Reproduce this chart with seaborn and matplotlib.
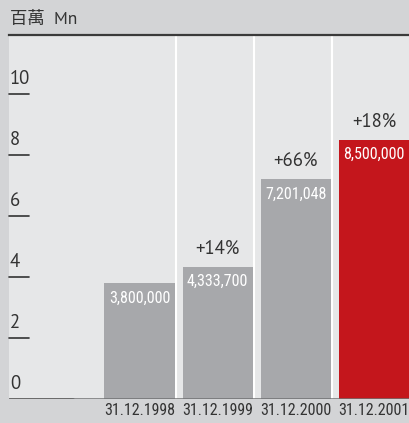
import matplotlib
matplotlib.use("Agg")
import matplotlib.pyplot as plt
import seaborn as sns
import pandas as pd

# data
dates = ['31.12.1998', '31.12.1999', '31.12.2000', '31.12.2001']
members = [3.8, 4.3337, 7.201048, 8.5]
value_labels = ['3,800,000', '4,333,700', '7,201,048', '8,500,000']
growth_labels = ['', '+14%', '+66%', '+18%']
bar_colors = ['#a7a8ab', '#a7a8ab', '#a7a8ab', '#c4161c']
y_ticks = [0, 2, 4, 6, 8, 10]

df = pd.DataFrame({'date': dates, 'members': members})

sns.set_style("white")
narrow = ['Roboto Condensed', 'DejaVu Sans']
regular = ['PT Sans', 'DejaVu Sans']
plt.rcParams['font.family'] = narrow

fig = plt.figure(figsize=(4.09, 4.23), dpi=100, facecolor='#d3d4d6')
ax = fig.add_axes([9 / 409, 24 / 423, 400 / 409, 364 / 423])
ax.set_facecolor('#e6e7e8')

sns.barplot(data=df, x='date', y='members', hue='date', palette=bar_colors,
            width=0.9, legend=False, saturation=1, linewidth=0, ax=ax)

ax.set_xlim(-1.673, 3.45)
ax.set_ylim(0, 11.93)

# white column separators
for i in range(3):
    ax.axvline(i + 0.47, color='white', lw=1.5, zorder=0.5)

# labels on and above bars
for i, (v, lab, g) in enumerate(zip(members, value_labels, growth_labels)):
    ax.text(i, v - 0.24, lab, ha='center', va='top', color='white', fontsize=11.5)
    if g:
        ax.text(i, v + 0.3, g, ha='center', va='bottom', color='#333333', fontsize=13.5,
                family=regular)

# y ticks drawn as short lines with labels above
for t in y_ticks:
    if t > 0:
        ax.plot([-1.673, -1.42], [t, t], color='#333333', lw=1.2, clip_on=False)
    ax.text(-1.66, t + 0.2, str(t), ha='left', va='bottom', color='#333333', fontsize=13.5,
            family=regular)

# baseline
ax.axhline(0, xmin=0, xmax=0.16, color='#444444', lw=1.8, zorder=3)
ax.axhline(0, xmin=0.16, xmax=1, color='#707172', lw=1.8, zorder=3)

ax.set_yticks([])
ax.set_xlabel('')
ax.set_ylabel('')
ax.tick_params(axis='x', length=0, pad=3, labelsize=11.5, labelcolor='#333333')
for s in ['left', 'right', 'bottom']:
    ax.spines[s].set_visible(False)
ax.spines['top'].set_color('#3a3a3a')
ax.spines['top'].set_linewidth(1.6)

fig.text(10 / 409, 1 - 20 / 423, '百萬  Mn', ha='left', va='center', fontsize=12.5,
         color='#333333', family=['PT Sans', 'Noto Sans CJK TC'])

fig.savefig('out.png', dpi=100, facecolor=fig.get_facecolor())
